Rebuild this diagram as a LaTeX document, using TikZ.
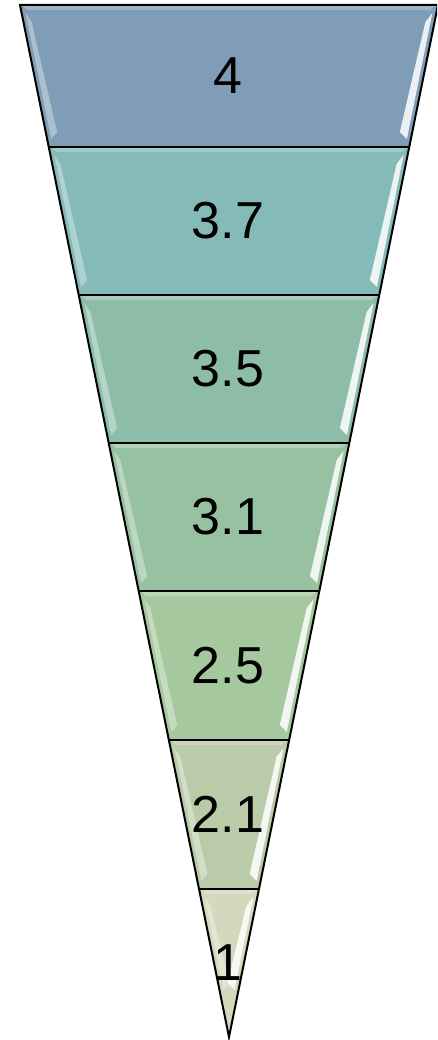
\documentclass[tikz,border=0pt]{standalone}
\usepackage{fontspec}
\setmainfont{Liberation Sans}
\definecolor{b1}{HTML}{7F9DB6}
\definecolor{b2}{HTML}{84BAB7}
\definecolor{b3}{HTML}{8DBDA9}
\definecolor{b4}{HTML}{97C2A1}
\definecolor{b5}{HTML}{A6C89E}
\definecolor{b6}{HTML}{BACBA9}
\definecolor{b7}{HTML}{D4D8BC}
\tikzset{
  bandlabel/.style={font=\fontsize{52}{60}\selectfont, inner sep=0pt, text=black},
  outline/.style={draw=black, line width=2pt, line join=miter},
  divider/.style={draw=black, line width=1.8pt},
  hiR/.style={fill=white, fill opacity=0.85},
  hiL/.style={fill=white, fill opacity=0.35},
  hiT/.style={fill=white, fill opacity=0.25}
}
\def\sl{0.2025194}
\begin{document}
\begin{tikzpicture}[x=1pt,y=-1pt]
\useasboundingbox (0,0) rectangle (437,1040);
\clip (0,0) rectangle (437,1040);
\foreach \t/\b/\c/\lab/\n/\e in {5/147/b1/4/n1/139, 147/295/b2/3.7/n2/287, 295/443/b3/3.5/n3/435, 443/591/b4/3.1/n4/583, 591/740/b5/2.5/n5/732, 740/889/b6/2.1/n6/881, 889/1037/b7/1/n7/990}{
  \pgfmathsetmacro\lt{20+\sl*(\t-5)}
  \pgfmathsetmacro\rt{438-\sl*(\t-5)}
  \pgfmathsetmacro\lb{20+\sl*(\b-5)}
  \pgfmathsetmacro\rb{438-\sl*(\b-5)}
  \fill[\c] (\lt,\t) -- (\rt,\t) -- (\rb,\b) -- (\lb,\b) -- cycle;
  % bevel highlights
  \pgfmathsetmacro\ya{\t+8}
  \pgfmathsetmacro\yb{\e}
  \pgfmathsetmacro\ra{438-\sl*(\ya-5)}
  \pgfmathsetmacro\rbb{438-\sl*(\yb-5)}
  \pgfmathsetmacro\la{20+\sl*(\ya-5)}
  \pgfmathsetmacro\lbb{20+\sl*(\yb-5)}
  \fill[hiR] (\ra-4,\ya) -- (\rbb-4,\yb) -- (\rbb-11,\yb-7) -- (\ra-11,\ya+9) -- cycle;
  \fill[hiL] (\la+4,\ya) -- (\lbb+4,\yb) -- (\lbb+10,\yb-7) -- (\la+10,\ya+9) -- cycle;
  \fill[hiT] (\lt+3,\t+1) -- (\rt-3,\t+1) -- (\ra-6,\t+5) -- (\la+6,\t+5) -- cycle;
  \node[bandlabel] (\n) at (228,{(\t+\b)/2}) {\lab};
}
\coordinate (tl) at (20,5);
\coordinate (tr) at (438,5);
\coordinate (apex) at (229,1037);
\foreach \y/\m in {147/d1,295/d2,443/d3,591/d4,740/d5,889/d6}{
  \pgfmathsetmacro\xl{20+\sl*(\y-5)}
  \pgfmathsetmacro\xr{438-\sl*(\y-5)}
  \coordinate (\m l) at (\xl,\y);
  \coordinate (\m r) at (\xr,\y);
  \draw[divider] (\m l) -- (\m r);
}
\draw[outline] (tl) -- (tr) -- (apex) -- cycle;
\end{tikzpicture}
\end{document}
